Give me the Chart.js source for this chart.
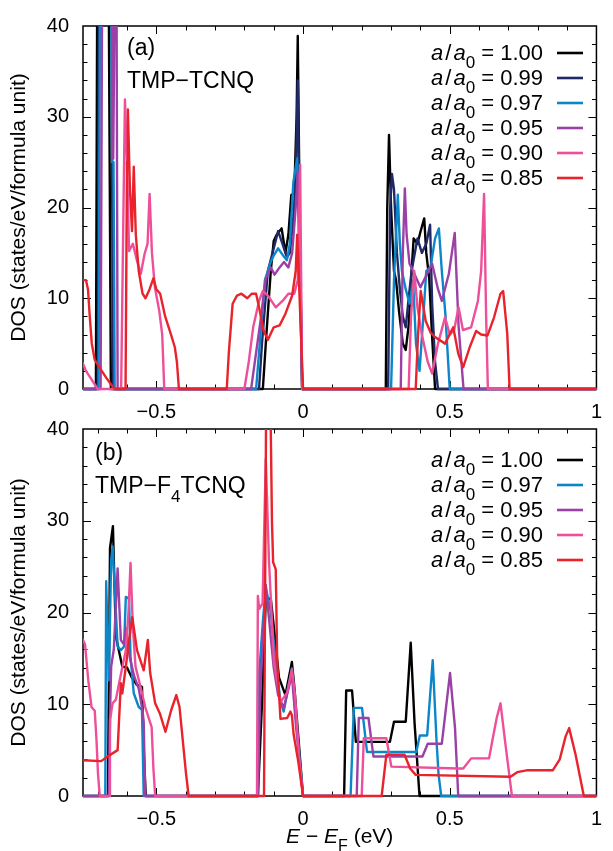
<!DOCTYPE html>
<html>
<head>
<meta charset="utf-8">
<script src="https://cdn.jsdelivr.net/npm/chart.js@4.4.1/dist/chart.umd.min.js"></script>
<style>
  html, body { margin: 0; padding: 0; background: #ffffff; }
  #wrap { position: relative; width: 613px; height: 851px; overflow: hidden; background: #ffffff; }
  canvas { position: absolute; left: 0; }
  #ca { top: 0; }
  #cb { top: 400px; }
</style>
</head>
<body>
<div id="wrap">
  <canvas id="ca" width="613" height="430"></canvas>
  <canvas id="cb" width="613" height="451"></canvas>
</div>
<script>
// ---------------- DATA ----------------
// Panel (a): TMP-TCNQ, [E - EF (eV), DOS]
const dosA_100 = [[-0.75,0],[-0.706,0],[-0.700,60],[-0.665,60],[-0.655,0],[-0.137,0],[-0.125,6],[-0.11,13],[-0.1,16.3],[-0.09,17],[-0.073,17.7],[-0.06,15],[-0.05,17],[-0.04,21.4],[-0.03,21.5],[-0.022,30],[-0.018,38.9],[-0.01,15],[-0.003,0],[0.282,0],[0.287,20],[0.293,28],[0.3,20],[0.31,13],[0.317,12],[0.327,8.6],[0.34,5],[0.35,4.3],[0.36,7],[0.37,13],[0.377,16.6],[0.39,16],[0.4,17.3],[0.413,18.8],[0.42,15],[0.43,12.2],[0.44,5.7],[0.45,0],[1,0]];
const dosA_099 = [[-0.75,0],[-0.700,0],[-0.694,60],[-0.655,60],[-0.648,0],[-0.15,0],[-0.14,5],[-0.12,13],[-0.1,15.5],[-0.085,17.4],[-0.07,16],[-0.055,14.5],[-0.045,15],[-0.035,18],[-0.025,23],[-0.018,34],[-0.012,20],[-0.003,0],[0.29,0],[0.297,20],[0.303,23.7],[0.31,22],[0.32,15],[0.33,11],[0.34,8],[0.35,6.8],[0.36,10],[0.37,13],[0.39,16.6],[0.405,15],[0.42,16],[0.433,18.1],[0.44,9.4],[0.45,3],[0.46,0],[1,0]];
const dosA_097 = [[-0.75,0],[-0.697,0],[-0.690,60],[-0.655,60],[-0.651,25],[-0.646,25],[-0.642,0],[-0.16,0],[-0.145,6],[-0.13,12],[-0.11,14],[-0.1,14.7],[-0.085,15.5],[-0.07,14.8],[-0.055,14.2],[-0.045,16],[-0.033,22.8],[-0.02,25.4],[-0.012,15],[-0.003,0],[0.30,0],[0.31,12],[0.323,21.4],[0.33,16],[0.337,13],[0.35,11],[0.363,9.4],[0.375,12],[0.385,5],[0.397,2],[0.41,8],[0.42,13],[0.435,13.5],[0.45,16.6],[0.463,17.7],[0.473,13],[0.485,8.3],[0.5,0],[1,0]];
const dosA_095 = [[-0.75,0],[-0.69,0],[-0.683,60],[-0.650,60],[-0.647,25.4],[-0.643,40],[-0.637,60],[-0.632,0],[-0.177,0],[-0.16,4],[-0.145,7.5],[-0.127,12.2],[-0.11,13.4],[-0.097,12.6],[-0.08,13.4],[-0.065,14],[-0.05,13.4],[-0.037,15],[-0.025,20],[-0.018,23.9],[-0.01,12],[-0.003,0],[0.333,0],[0.34,15],[0.347,22.1],[0.353,17],[0.363,13.8],[0.375,13],[0.4,11.2],[0.42,12.5],[0.44,13.8],[0.46,11],[0.473,9.7],[0.497,12.7],[0.517,17.2],[0.53,7],[0.547,0],[1,0]];
const dosA_090 = [[-0.75,2.8],[-0.74,2],[-0.72,1],[-0.70,0],[-0.62,0],[-0.612,20],[-0.607,31.9],[-0.6,25],[-0.593,15.2],[-0.58,16],[-0.565,14],[-0.553,12.7],[-0.54,14.9],[-0.53,16],[-0.523,21.5],[-0.515,15],[-0.505,11.2],[-0.49,8.6],[-0.48,6],[-0.473,0],[-0.2,0],[-0.185,3],[-0.17,6.8],[-0.15,9.7],[-0.137,10.8],[-0.12,10.3],[-0.093,9],[-0.07,9.7],[-0.05,10.5],[-0.03,10.5],[-0.018,12],[-0.01,24.7],[-0.003,0],[0.36,0],[0.368,8],[0.379,13],[0.39,9],[0.405,6],[0.425,3],[0.44,1.7],[0.46,5],[0.484,7.9],[0.5,6],[0.515,6.5],[0.53,9],[0.545,6.5],[0.573,6.8],[0.596,9.7],[0.607,13],[0.617,21.5],[0.624,8],[0.63,0],[1,0]];
const dosA_085 = [[-0.75,12],[-0.74,12],[-0.733,11],[-0.727,8],[-0.72,5],[-0.71,3.2],[-0.69,2.2],[-0.67,1.2],[-0.65,0.3],[-0.64,0],[-0.605,0],[-0.6,25],[-0.597,30.8],[-0.59,22],[-0.583,17.4],[-0.577,24.5],[-0.57,17],[-0.56,13],[-0.547,10.5],[-0.537,10],[-0.523,11],[-0.51,12.2],[-0.5,11],[-0.487,10.5],[-0.47,8],[-0.45,6],[-0.437,4.6],[-0.43,3],[-0.423,0],[-0.26,0],[-0.253,4],[-0.24,9.4],[-0.225,10.3],[-0.21,10.5],[-0.19,10],[-0.175,10.5],[-0.16,10.5],[-0.15,9],[-0.135,6.5],[-0.12,5.4],[-0.1,6.8],[-0.08,7],[-0.06,8.3],[-0.037,10.3],[-0.025,13],[-0.02,17],[0,0],[0.384,0],[0.392,6],[0.401,10.8],[0.418,7.5],[0.435,6.2],[0.451,5.7],[0.484,5],[0.512,6.8],[0.529,3.9],[0.546,2.4],[0.568,4.6],[0.59,6.4],[0.607,6],[0.629,5.9],[0.651,7.9],[0.673,10.5],[0.682,10.8],[0.696,6.1],[0.704,0],[1,0]];

// Panel (b): TMP-F4TCNQ
const dosB_100 = [[-0.75,0],[-0.665,0],[-0.658,27],[-0.648,29.4],[-0.638,17.4],[-0.616,14.1],[-0.6,14],[-0.585,13],[-0.566,12.1],[-0.549,11.9],[-0.543,5],[-0.536,0],[-0.154,0],[-0.14,10],[-0.127,21.5],[-0.11,21.5],[-0.099,18.3],[-0.082,12.9],[-0.06,11],[-0.038,14.6],[-0.03,12],[-0.015,6],[0,0],[0.14,0],[0.147,11.5],[0.167,11.5],[0.18,5.9],[0.296,5.9],[0.31,8.1],[0.35,8.1],[0.367,16.7],[0.38,8],[0.397,0],[1,0]];
const dosB_097 = [[-0.75,0],[-0.674,0],[-0.671,23.4],[-0.662,12.6],[-0.654,25.7],[-0.649,27.2],[-0.632,16.3],[-0.621,15.9],[-0.61,16.3],[-0.604,21.7],[-0.593,21.5],[-0.588,15.2],[-0.577,11.2],[-0.56,9.7],[-0.549,9.4],[-0.543,0],[-0.153,0],[-0.149,13.5],[-0.137,19],[-0.127,22.7],[-0.11,20.1],[-0.093,14.6],[-0.077,10.3],[-0.066,9.2],[-0.038,13.9],[-0.02,7],[0,0],[0.162,0],[0.173,9.6],[0.201,9.6],[0.218,4.8],[0.386,4.8],[0.398,6.6],[0.423,6.6],[0.442,14.8],[0.455,6],[0.462,2.3],[0.471,0],[1,0]];
const dosB_095 = [[-0.75,0],[-0.662,0],[-0.657,10],[-0.654,14.1],[-0.645,16],[-0.632,24.8],[-0.621,17],[-0.61,16.5],[-0.604,18.3],[-0.59,15],[-0.575,13],[-0.56,11.7],[-0.547,9.3],[-0.543,8],[-0.538,0],[-0.155,0],[-0.145,12],[-0.127,23],[-0.115,19],[-0.1,14],[-0.085,11],[-0.066,9.6],[-0.038,13.2],[-0.025,8],[-0.01,3],[0,0],[0.183,0],[0.19,8.5],[0.223,8.5],[0.24,4.3],[0.407,4.3],[0.425,5.7],[0.473,5.7],[0.485,9],[0.501,13.4],[0.518,7.4],[0.529,0],[1,0]];
const dosB_090 = [[-0.75,17],[-0.743,16.5],[-0.732,12.6],[-0.721,9.7],[-0.71,9.3],[-0.704,6.1],[-0.699,2.5],[-0.693,0],[-0.661,0],[-0.658,8.3],[-0.649,10.1],[-0.638,10.5],[-0.627,12.3],[-0.604,15.9],[-0.595,20],[-0.588,25.4],[-0.58,18.4],[-0.571,14.1],[-0.554,11.9],[-0.538,9.7],[-0.516,7.5],[-0.51,3],[-0.504,0],[-0.157,0],[-0.154,21.8],[-0.149,20.4],[-0.138,21],[-0.127,36.7],[-0.116,25.5],[-0.099,14.6],[-0.077,10.2],[-0.054,11.3],[-0.038,13.8],[-0.027,10.9],[-0.013,4],[0,0],[0.2,0],[0.207,6.3],[0.284,6.3],[0.301,3.2],[0.529,3],[0.546,3],[0.573,4.1],[0.634,4.1],[0.645,6],[0.66,8.5],[0.673,10.1],[0.69,5.6],[0.712,0],[1,0]];
const dosB_085 = [[-0.75,3.9],[-0.688,3.8],[-0.666,4.3],[-0.632,5],[-0.621,12.3],[-0.616,11.2],[-0.604,14.1],[-0.593,17],[-0.582,19.5],[-0.566,15.9],[-0.543,13.7],[-0.529,17],[-0.521,13.4],[-0.504,10.1],[-0.488,9],[-0.469,7],[-0.449,9.4],[-0.432,11],[-0.421,9.7],[-0.41,6.1],[-0.399,2.5],[-0.39,0],[-0.133,0],[-0.125,48],[-0.12,48],[-0.112,45],[-0.106,30],[-0.102,25.5],[-0.093,24.7],[-0.088,14.6],[-0.077,8.4],[-0.054,8.5],[-0.043,9.2],[-0.038,8.8],[-0.032,6.7],[-0.016,3.7],[0,0],[0.268,0],[0.284,4.5],[0.346,4.5],[0.365,3],[0.384,2.3],[0.707,2.1],[0.73,2.6],[0.762,2.8],[0.851,2.8],[0.875,4],[0.895,6.5],[0.907,7.4],[0.929,4.5],[0.957,0],[1,0]];

const ratiosA = ['1.00','0.99','0.97','0.95','0.90','0.85'];
const ratiosB = ['1.00','0.97','0.95','0.90','0.85'];
const xTickValues = [-0.5, 0, 0.5, 1];
const xTickLabels = ['\u22120.5', '0', '0.5', '1'];
const yTickValues = [0, 10, 20, 30, 40];
const yTickLabels = ['0', '10', '20', '30', '40'];
const xMinorTicks = [-0.7,-0.6,-0.5,-0.4,-0.3,-0.2,-0.1,0,0.1,0.2,0.3,0.4,0.5,0.6,0.7,0.8,0.9];
const yMinorTicks = [2,4,6,8,10,12,14,16,18,20,22,24,26,28,30,32,34,36,38];
const xMajorTicks = [-0.5, 0, 0.5];
const yMajorTicks = [10, 20, 30];

// ---------------- STYLE ----------------
const FONT = '"Liberation Sans", Arial, Helvetica, sans-serif';
const COLORS = {'1.00':'#000000','0.99':'#1f2a66','0.97':'#0b86c9','0.95':'#9b41a6','0.90':'#ee4f98','0.85':'#e8232b'};
const DRAW_ORDER = {'1.00':5,'0.99':4,'0.97':3,'0.95':2,'0.90':1,'0.85':0};

function toPoints(pairs) { return pairs.map(p => ({x: p[0], y: p[1]})); }

function makeDatasets(labels, seriesList) {
  return labels.map((lab, i) => ({
    label: 'a/a0 = ' + lab,
    data: toPoints(seriesList[i]),
    borderColor: COLORS[lab],
    backgroundColor: COLORS[lab],
    borderWidth: 2.4,
    pointRadius: 0,
    tension: 0,
    fill: false,
    order: DRAW_ORDER[lab],
    clip: {left: 0, top: 0, right: 0, bottom: 2},
    borderJoinStyle: 'round',
    borderCapStyle: 'round'
  }));
}

function drawRich(ctx, parts, x, y, size, align) {
  let w = 0;
  const segs = parts.map(p => {
    const fs = p.sub ? Math.round(size * 0.76) : size;
    const font = (p.it ? 'italic ' : '') + fs + 'px ' + FONT;
    ctx.font = font;
    const tw = ctx.measureText(p.t).width;
    const s = {p, font, tw, gl: p.gl || 0, gr: p.gr || 0};
    w += s.gl + tw + s.gr;
    return s;
  });
  let cx = align === 'right' ? x - w : (align === 'center' ? x - w / 2 : x);
  ctx.textAlign = 'left';
  ctx.textBaseline = 'alphabetic';
  ctx.fillStyle = '#000';
  for (const s of segs) {
    cx += s.gl;
    ctx.font = s.font;
    ctx.fillText(s.p.t, cx, y + (s.p.sub ? Math.round(size * 0.38) : 0));
    cx += s.tw + s.gr;
  }
}

const decoPlugin = {
  id: 'deco',
  beforeDatasetsDraw(chart, args, o) {
    const {ctx, chartArea: a, scales: {x, y}} = chart;
    ctx.save();
    ctx.strokeStyle = '#000';
    ctx.lineWidth = 1;
    ctx.beginPath();
    for (const v of xMinorTicks) {
      const px = Math.round(x.getPixelForValue(v)) + 0.5;
      const len = xMajorTicks.some(m => Math.abs(m - v) < 1e-9) ? 8 : 4.5;
      ctx.moveTo(px, a.bottom); ctx.lineTo(px, a.bottom - len);
      ctx.moveTo(px, a.top); ctx.lineTo(px, a.top + len);
    }
    for (const v of yMinorTicks) {
      const py = Math.round(y.getPixelForValue(v)) + 0.5;
      const len = yMajorTicks.includes(v) ? 8 : 4.5;
      ctx.moveTo(a.left, py); ctx.lineTo(a.left + len, py);
      ctx.moveTo(a.right, py); ctx.lineTo(a.right - len, py);
    }
    ctx.stroke();
    ctx.lineWidth = 1.5;
    ctx.strokeRect(a.left, a.top, a.right - a.left, a.bottom - a.top);
    ctx.restore();
  },
  afterDraw(chart, args, o) {
    const {ctx, chartArea: a} = chart;
    ctx.save();
    drawRich(ctx, [{t: o.tag}], o.tagX, o.tagY, 23, 'left');
    drawRich(ctx, o.nameParts, o.tagX, o.nameY, 23, 'left');
    o.ratios.forEach((r, i) => {
      const ly = o.legendY + i * 25;
      drawRich(ctx, [{t: 'a', it: true}, {t: '/', gl: 2, gr: 2}, {t: 'a', it: true}, {t: '0', sub: true}, {t: ' = ' + r}], 543, ly + 7, 22, 'right');
      ctx.strokeStyle = COLORS[r];
      ctx.lineWidth = 2.6;
      ctx.beginPath();
      ctx.moveTo(557, ly); ctx.lineTo(583, ly);
      ctx.stroke();
    });
    if (o.xTitle) {
      drawRich(ctx, [{t: 'E', it: true}, {t: ' \u2212 '}, {t: 'E', it: true}, {t: 'F', sub: true}, {t: ' (eV)'}],
        (a.left + a.right) / 2, o.xTitleY, 21, 'center');
    }
    ctx.restore();
  }
};

function makeChart(id, datasets, p) {
  return new Chart(document.getElementById(id), {
    type: 'line',
    data: {datasets},
    options: {
      responsive: false,
      animation: false,
      events: [],
      layout: {padding: {top: p.top, right: 6, bottom: 0, left: 0}},
      plugins: {
        legend: {display: false},
        tooltip: {enabled: false},
        deco: p.deco
      },
      scales: {
        x: {
          type: 'linear', min: -0.75, max: 1,
          afterBuildTicks: s => { s.ticks = xTickValues.map(v => ({value: v})); },
          ticks: {
            autoSkip: false, maxRotation: 0, padding: 11, color: '#000',
            font: {family: FONT, size: 20},
            callback: v => { const i = xTickValues.findIndex(t => Math.abs(t - v) < 1e-9); return i >= 0 ? xTickLabels[i] : ''; }
          },
          grid: {display: false, drawTicks: false},
          border: {display: false},
          afterFit: s => { s.height = p.xAxisHeight; }
        },
        y: {
          type: 'linear', min: 0, max: 40,
          afterBuildTicks: s => { s.ticks = yTickValues.map(v => ({value: v})); },
          ticks: {
            padding: 14, color: '#000',
            font: {family: FONT, size: 20},
            callback: v => { const i = yTickValues.indexOf(v); return i >= 0 ? yTickLabels[i] : ''; }
          },
          grid: {display: false, drawTicks: false},
          border: {display: false},
          title: {display: true, text: 'DOS (states/eV/formula unit)', color: '#000', font: {family: FONT, size: 21}, padding: {top: 7, bottom: 0}},
          afterFit: s => { s.width = 83; }
        }
      }
    },
    plugins: [decoPlugin]
  });
}

makeChart('ca', makeDatasets(ratiosA, [dosA_100, dosA_099, dosA_097, dosA_095, dosA_090, dosA_085]), {
  top: 23, xAxisHeight: 41,
  deco: {tag: '(a)', tagX: 127, tagY: 55, nameParts: [{t: 'TMP\u2212TCNQ'}], nameY: 88, ratios: ratiosA, legendY: 53, xTitle: false}
});

makeChart('cb', makeDatasets(ratiosB, [dosB_100, dosB_097, dosB_095, dosB_090, dosB_085]), {
  top: 29, xAxisHeight: 55,
  deco: {tag: '(b)', tagX: 95, tagY: 60, nameParts: [{t: 'TMP\u2212F'}, {t: '4', sub: true}, {t: 'TCNQ'}], nameY: 93, ratios: ratiosB, legendY: 60, xTitle: true, xTitleY: 443}
});
</script>
</body>
</html>
